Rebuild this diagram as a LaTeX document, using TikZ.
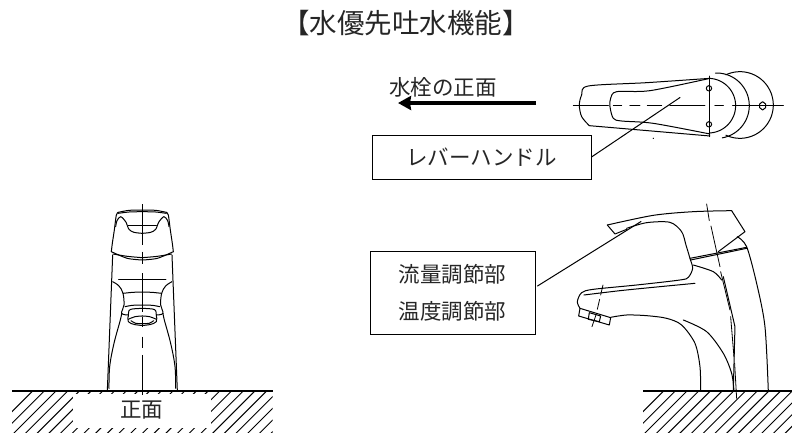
\documentclass[tikz,border=0pt]{standalone}
\usepackage{fontspec}
\setmainfont{Noto Sans CJK JP}
\usetikzlibrary{arrows.meta}
\tikzset{
  ln/.style={line width=1pt,line cap=round,line join=round},
  thin ln/.style={line width=0.8pt,line cap=round,line join=round},
  label text/.style={font=\fontsize{21.5}{37}\selectfont,text=black!85,inner sep=0pt},
  title text/.style={font=\fontsize{27.5}{30}\selectfont,text=black!85,inner sep=0pt},
  boxed/.style={draw,line width=1pt,label text,align=center},
}
\newcommand{\hatching}[4]{% x0,y0,x1,y1 in px
  \begin{scope}
  \clip (#1,#2) rectangle (#3,#4);
  \foreach \k in {-2,...,60}{
    \draw[thin ln,line width=0.95pt] ({#1+\k*11.7},#4+3) -- ++(46,-46);
  }
  \end{scope}
}
\begin{document}
\begin{tikzpicture}[x=1pt,y=-1pt]
\useasboundingbox (0,0) rectangle (792,432);
\fill[white] (0,0) rectangle (792,432);
\node[title text] (title) at (406,23) {【水優先吐水機能】};

% ----- front view -----
\hatching{12}{391}{272.5}{432}
\node[fill=white,inner sep=0pt,minimum width=138pt,minimum height=34pt,label text] (front) at (141.5,410.5) {正面};
\coordinate (gl1) at (12,391); \coordinate (gl2) at (272.5,391);
\draw[line width=1.6pt] (gl1) -- (gl2);
\begin{scope}[x=0.3333pt,y=-0.3333pt,yshift=-180pt,xshift=142.33pt]
 \foreach \s in {1,-1}{
 \begin{scope}[xscale=\s]
  \draw[ln] plot[smooth,tension=0.5] coordinates {(0,90) (40,91) (72,97)};
  \draw[ln] plot[smooth,tension=0.5] coordinates {(0,95) (40,96) (72,100)};
  \draw[ln] plot[smooth,tension=0.5] coordinates {(72,97) (78,105) (84,150) (90,190) (93,215)};
  \draw[ln] plot[smooth,tension=0.5] coordinates {(0,160) (25,157) (40,148) (50,125) (65,110) (76,122) (80,140)};
  \draw[ln] (0,135) -- (42,135);
  \draw[ln] plot[smooth,tension=0.5] coordinates {(0,240) (45,235) (93,215)};
  \draw[ln] plot[smooth,tension=0.5] coordinates {(0,233) (45,229) (88,222)};
  \draw[ln] (89,225) -- (105,632);
  \draw[ln] (0,299) -- (71,299);
  \draw[ln] plot[smooth,tension=0.6] coordinates {(89,305) (70,318) (58,340) (55,375) (62,400) (42,405)};
  \draw[ln] (0,336) -- (30,337) -- (58,340);
  \draw[ln] plot[smooth,tension=0.5] coordinates {(0,375) (30,376) (52,380)};
  \draw[ln] plot[smooth,tension=0.5] coordinates {(0,385) (30,387) (40,392) (42,408)};
  \draw[ln] plot[smooth,tension=0.6] coordinates {(62,400) (66,420) (85,490) (98,560) (100,625)};
  \draw[ln] plot[smooth,tension=0.7] coordinates {(42,408) (42,425) (22,434) (0,436)};
  \draw[ln] plot[smooth,tension=0.7] coordinates {(42,418) (22,410) (0,408)};
  \draw[ln] plot[smooth,tension=0.7] coordinates {(34,422) (20,430) (0,431)};
 \end{scope}}
 \coordinate (c1) at (0,72); \coordinate (c2) at (0,645);
 \draw[line width=1.1pt] (c1) -- (0,195) (0,215) -- (0,252) (0,280) -- (0,395) (0,412) -- (0,440) (0,470) -- (0,505) (0,525) -- (c2);
\end{scope}

% ----- top view -----
\node[label text] (wfront) at (443,87) {水栓の正面};
\coordinate (a1) at (536,103); \coordinate (a2) at (398,103);
\draw[line width=3.3pt,-{Stealth[length=13pt,width=14pt,inset=1pt]}] (a1) -- (a2);
\node[boxed,minimum width=219pt,minimum height=44pt] (lever) at (481.5,157) {レバーハンドル};
\coordinate (leverTip) at (680,97.5);
\draw[ln] (lever.east) -- (leverTip);
\begin{scope}[x=0.3333pt,y=-0.3333pt,yshift=-60pt,xshift=360pt]
 \draw[ln] plot[smooth,tension=0.5] coordinates {(1050,55) (860,68) (685,78) (665,105) (658,135) (665,170) (688,197)};
 \draw[ln] (688,197) -- (1050,228);
 \draw[ln] plot[smooth,tension=0.5] coordinates {(1050,55) (870,92) (770,95) (752,115) (750,140) (760,175) (785,183) (880,190) (1050,222)};
 \draw[ln] (1050,48) -- (1050,230);
 \draw[ln,domain=-88:88,samples=40] plot ({1045+82*cos(\x)},{137+82*sin(\x)});
 \draw[ln,domain=-92:80,samples=40] plot ({1070+98*cos(\x)},{137+98*sin(\x)});
 \draw[ln,domain=-115:115,samples=50] plot ({1140+100*cos(\x)},{135+100*sin(\x)});
 \draw[ln] (1047,85) circle[radius=8];
 \draw[ln] (1047,193) circle[radius=8];
 \draw[ln] (1208,125) -- (1217,132) -- (1217,143) -- (1208,150) -- (1199,143) -- (1199,132) -- cycle;
 \draw[ln] (640,137) -- (745,137) (760,137) -- (785,137) (810,137) -- (840,137) (862,137) -- (905,137) (930,137) -- (1035,137) (1065,137) -- (1090,137) (1118,137) -- (1270,137);
 \fill (880,235) circle[radius=2];
\end{scope}

% ----- side view -----
\hatching{643}{391}{792}{432}
\coordinate (gr1) at (643,391); \coordinate (gr2) at (792,391);
\draw[line width=1.4pt] (gr1) -- (gr2);
\node[boxed,minimum width=165pt,minimum height=83pt] (adjust) at (452.5,292.5) {流量調節部\\温度調節部};
\coordinate (adjStart) at (537.5,286); \coordinate (adjTip) at (641,221.5);
\draw[ln] (adjStart) -- (adjTip);
\begin{scope}[x=0.3333pt,y=-0.3333pt,yshift=-190pt,xshift=360pt]
 \draw[ln] plot[smooth,tension=0.5] coordinates {(742,105) (880,76) (1000,65) (1115,62)};
 \draw[ln] (1115,62) -- (1155,125) -- (1075,185);
 \draw[ln] (742,105) -- (765,132) -- (800,118);
 \draw[ln] plot[smooth,tension=0.5] coordinates {(800,115) (860,98) (930,97) (965,125) (978,165) (990,205) (998,235) (985,262) (960,270) (830,285) (700,298) (665,308) (652,335) (660,355)};
 \draw[ln] (660,355) -- (752,383) -- (748,405) -- (656,378) -- cycle;
 \draw[ln] (688,368) -- (722,378) -- (718,395) -- (685,388) -- cycle;
 \draw[ln] plot[smooth,tension=0.5] coordinates {(752,382) (800,375) (860,377) (920,385) (965,405) (1005,460) (1020,530) (1022,602)};
 \draw[ln] plot[smooth,tension=0.5] coordinates {(970,390) (1040,425) (1090,490) (1115,550) (1122,602)};
 \draw[ln] plot[smooth,tension=0.5] coordinates {(1000,225) (1060,245) (1085,270)};
 \draw[ln] plot[smooth,tension=0.4] coordinates {(672,315) (780,302) (900,290) (1005,280)};
 \draw[ln] (990,205) -- (1160,172);
 \draw[ln] (992,210) -- (1160,175);
 \draw[ln] plot[smooth,tension=0.5] coordinates {(1132,140) (1160,170) (1190,280) (1215,410) (1225,602)};
 \draw[ln] (1090,260) -- (1125,410) -- (1120,602);
 \draw[thin ln] (1040,42) -- (1048,92) (1053,108) -- (1080,230) (1082,245) -- (1110,360) (1112,380) -- (1122,500) (1124,520) -- (1130,625);
 \draw[thin ln] (729,285) -- (722,315) (719,328) -- (712,358) (709,372) -- (696,410);
\end{scope}
\end{tikzpicture}
\end{document}
